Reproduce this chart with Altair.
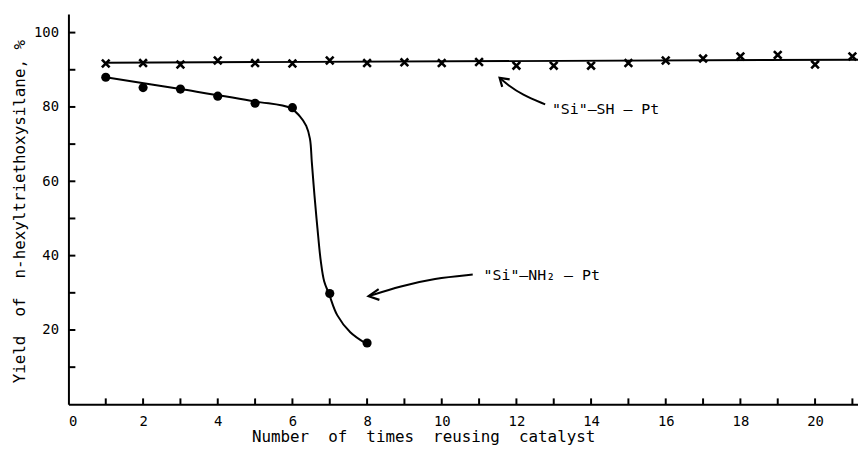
import altair as alt
import pandas as pd

# ---- data ----
runs_sh = list(range(1, 22))
yield_sh = [91.7, 91.8, 91.4, 92.5, 91.8, 91.7, 92.5, 91.8, 92.0, 91.8, 92.1,
            91.1, 91.1, 91.1, 91.8, 92.5, 93.0, 93.6, 94.0, 91.4, 93.6]
runs_nh2 = list(range(1, 9))
yield_nh2 = [88.0, 85.2, 84.8, 82.9, 81.0, 79.8, 29.8, 16.5]

fit_sh_x = [1, 21.15]
fit_sh_y = [91.9, 92.7]
fit_nh2_x = [1, 3, 5, 5.95, 6.19, 6.37, 6.47, 6.52, 6.59, 6.67, 6.76, 6.85, 6.98, 7.2, 7.55, 7.98]
fit_nh2_y = [88.0, 84.8, 81.5, 79.7, 77.6, 74.9, 71.4, 65.1, 56.3, 47.4, 38.5, 33.1, 29.7, 24.0, 19.4, 16.3]

x_ticks = list(range(1, 22))
x_labels = list(range(0, 21, 2))
y_ticks = list(range(10, 101, 10))
y_labels = [20, 40, 60, 80, 100]

arrow_sh_x = [12.77, 12.15, 11.76, 11.55]
arrow_sh_y = [80.7, 83.3, 86.0, 87.8]
head_sh_x = [11.82, 11.55, 11.62]
head_sh_y = [87.4, 87.8, 85.4]
arrow_nh2_x = [10.83, 9.8, 8.9, 8.04]
arrow_nh2_y = [34.9, 33.9, 31.8, 29.1]
head_nh2_x = [8.31, 8.04, 8.33]
head_nh2_y = [31.0, 29.1, 28.1]

NB = "\u00a0"
label_sh = '"Si"–SH' + NB + "–" + NB + "Pt"
label_nh2 = '"Si"–NH₂' + NB + "–" + NB + "Pt"
label_pos_x = [12.95, 11.12]
label_pos_y = [79.5, 34.9]

x_title = (NB * 2).join(["Number", "of", "times", "reusing", "catalyst"])
y_title = (NB * 2).join(["Yield", "of", "n-hexyltriethoxysilane,"]) + NB + "%"

# ---- layout ----
W, H = 797, 394
MONO = "DejaVu Sans Mono"

xs = alt.Scale(domain=[0, 21.15], nice=False, zero=False)
ys = alt.Scale(domain=[0, 105], nice=False, zero=False)

x_axis = alt.Axis(values=x_labels, ticks=False, grid=False, domain=True,
                  domainColor="black", domainWidth=2, labelFont=MONO,
                  labelFontSize=14, labelColor="black", labelPadding=10,
                  title=x_title,
                  titleFont=MONO, titleFontSize=16, titleFontWeight="normal",
                  titleColor="black", titleX=358, titleY=33,
                  titleBaseline="middle", titleAlign="center")
y_axis = alt.Axis(values=y_labels, ticks=False, grid=False, domain=True,
                  domainColor="black", domainWidth=2, labelFont=MONO,
                  labelFontSize=14, labelColor="black", labelPadding=10,
                  title=y_title,
                  titleFont=MONO, titleFontSize=16, titleFontWeight="normal",
                  titleColor="black", titleX=-49.5, titleY=199, titleAngle=270,
                  titleBaseline="middle", titleAlign="center")

X = alt.X("x:Q", scale=xs, axis=x_axis)
Y = alt.Y("y:Q", scale=ys, axis=y_axis)

df_sh = pd.DataFrame({"x": runs_sh, "y": yield_sh})
df_nh2 = pd.DataFrame({"x": runs_nh2, "y": yield_nh2})
df_fit_sh = pd.DataFrame({"x": fit_sh_x, "y": fit_sh_y})
df_fit_nh2 = pd.DataFrame({"x": fit_nh2_x, "y": fit_nh2_y})
df_xt = pd.DataFrame({"x": x_ticks})
df_yt = pd.DataFrame({"y": y_ticks})
df_arrows = pd.DataFrame({
    "x": arrow_sh_x + arrow_nh2_x,
    "y": arrow_sh_y + arrow_nh2_y,
    "g": ["sh"] * len(arrow_sh_x) + ["nh2"] * len(arrow_nh2_x),
    "o": list(range(len(arrow_sh_x))) + list(range(len(arrow_nh2_x))),
})
df_heads = pd.DataFrame({
    "x": head_sh_x + head_nh2_x,
    "y": head_sh_y + head_nh2_y,
    "g": ["sh"] * 3 + ["nh2"] * 3,
    "o": [0, 1, 2, 0, 1, 2],
})
df_labels = pd.DataFrame({"x": label_pos_x, "y": label_pos_y, "t": [label_sh, label_nh2]})

fit_sh = alt.Chart(df_fit_sh).mark_line(color="black", strokeWidth=2).encode(x=X, y=Y)
fit_nh2 = alt.Chart(df_fit_nh2).mark_line(color="black", strokeWidth=2,
                                         interpolate="catmull-rom").encode(x=X, y=Y)
pts_sh = alt.Chart(df_sh).mark_point(
    shape="M-1,-1L1,1M1,-1L-1,1", size=60, filled=False, color="black",
    strokeWidth=2.6, opacity=1).encode(x=X, y=Y)
pts_nh2 = alt.Chart(df_nh2).mark_circle(size=85, color="black", opacity=1).encode(x=X, y=Y)

xt = alt.Chart(df_xt).mark_rule(color="black", strokeWidth=2).encode(
    x=X, y=alt.value(H), y2=alt.value(H - 6))
yt = alt.Chart(df_yt).mark_rule(color="black", strokeWidth=2).encode(
    y=Y, x=alt.value(0), x2=alt.value(7))

arrows = alt.Chart(df_arrows).mark_line(color="black", strokeWidth=2,
                                        interpolate="basis").encode(
    x=X, y=Y, detail="g:N", order="o:Q")
heads = alt.Chart(df_heads).mark_line(color="black", strokeWidth=2.2).encode(
    x=X, y=Y, detail="g:N", order="o:Q")
labels = alt.Chart(df_labels).mark_text(
    align="left", baseline="middle", font=MONO, fontSize=15, color="black").encode(
    x=X, y=Y, text="t:N")

chart = alt.layer(fit_sh, fit_nh2, xt, yt, arrows, heads, pts_sh, pts_nh2, labels).properties(
    width=W, height=H,
    padding={"left": 61, "top": 4, "right": 0, "bottom": 41},
    autosize=alt.AutoSizeParams(type="none"),
    background="white",
).configure_view(stroke=None)

chart.save("out.html", embed_options={"renderer": "svg", "actions": False})
